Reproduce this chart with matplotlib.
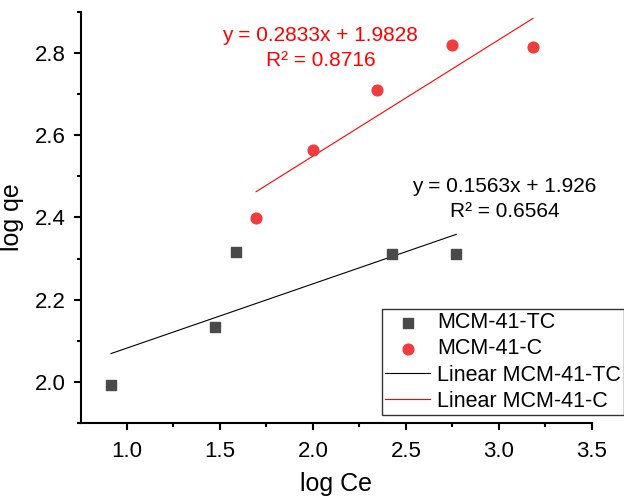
import numpy as np
import matplotlib.pyplot as plt
from matplotlib.ticker import MultipleLocator

plt.rcParams['font.family'] = ['Liberation Sans', 'DejaVu Sans']

# data
tc_x = [0.914, 1.473, 1.586, 2.425, 2.770]
tc_y = [1.993, 2.134, 2.315, 2.310, 2.310]
c_x = [1.694, 2.000, 2.344, 2.747, 3.183]
c_y = [2.400, 2.564, 2.710, 2.819, 2.814]

# linear fit coefficients shown on the chart
tc_fit = (0.1563, 1.926)
c_fit = (0.2833, 1.9828)
tc_eq = ['y = 0.1563x + 1.926', 'R² = 0.6564']
c_eq = ['y = 0.2833x + 1.9828', 'R² = 0.8716']

fig = plt.figure(figsize=(6.24, 4.99), dpi=100)
ax = fig.add_axes([81/624, 1 - 423/499, (592 - 81)/624, (423 - 12)/499])

ax.scatter(tc_x, tc_y, marker='s', s=55, color='#4a4a4a', label='MCM-41-TC', zorder=3)
ax.scatter(c_x, c_y, marker='o', s=60, color='#f03c3c', label='MCM-41-C', zorder=3)

xs = np.array([min(tc_x), max(tc_x)])
ax.plot(xs, tc_fit[0] * xs + tc_fit[1], color='black', lw=0.8, label='Linear MCM-41-TC')
xs = np.array([min(c_x), max(c_x)])
ax.plot(xs, c_fit[0] * xs + c_fit[1], color='red', lw=0.8, label='Linear MCM-41-C')

ax.text(2.04, 2.813, '\n'.join(c_eq), color='red', fontsize=15, ha='center', va='center',
        linespacing=1.4)
ax.text(3.03, 2.444, '\n'.join(tc_eq), color='black', fontsize=15, ha='center', va='center',
        linespacing=1.4)

ax.set_xlim(0.753, 3.5)
ax.set_ylim(1.9, 2.9)
ax.xaxis.set_major_locator(MultipleLocator(0.5))
ax.xaxis.set_minor_locator(MultipleLocator(0.25))
ax.yaxis.set_major_locator(MultipleLocator(0.2))
ax.yaxis.set_minor_locator(MultipleLocator(0.1))
ax.set_xticks([1.0, 1.5, 2.0, 2.5, 3.0, 3.5])
ax.set_xticklabels(['1.0', '1.5', '2.0', '2.5', '3.0', '3.5'])

for s in ['top', 'right']:
    ax.spines[s].set_visible(False)
for s in ['left', 'bottom']:
    ax.spines[s].set_linewidth(1.5)
ax.tick_params(which='major', length=5, width=1.5, labelsize=16, pad=6)
ax.tick_params(axis='x', which='major', pad=8)
ax.tick_params(which='minor', length=3, width=1.5)

ax.set_xlabel('log Ce', fontsize=18, labelpad=7)
ax.set_ylabel('log qe', fontsize=18, labelpad=8)

leg = ax.legend(loc='upper left', bbox_to_anchor=(382/624, 1 - 309/499),
                bbox_transform=fig.transFigure, fontsize=15.5, frameon=True,
                fancybox=False, edgecolor='black', borderpad=0.15, labelspacing=0.24,
                handlelength=2.1, handletextpad=0.3, borderaxespad=0)
leg.get_frame().set_linewidth(1.0)

fig.savefig('out.png', dpi=100)
